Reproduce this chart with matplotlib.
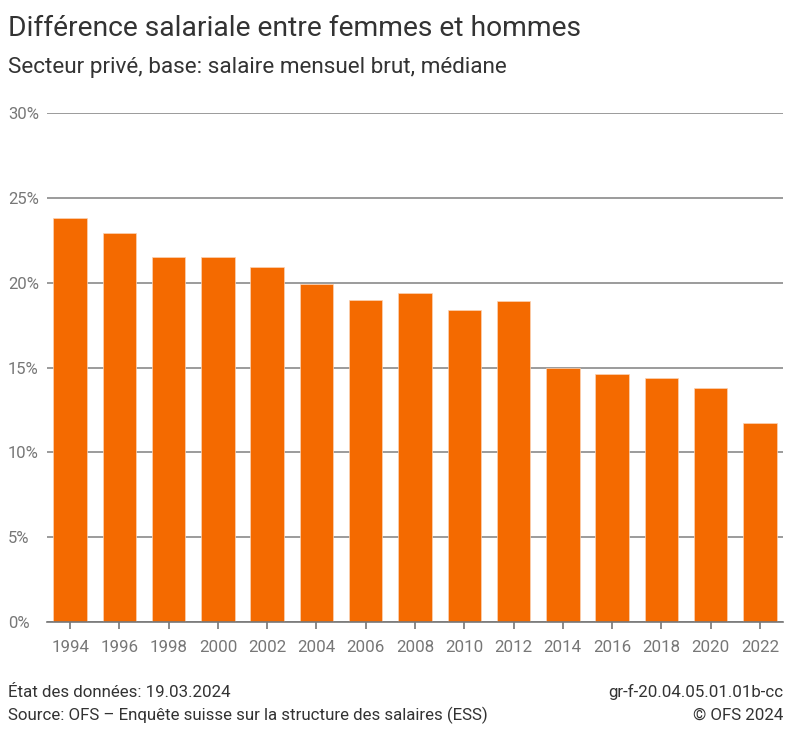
import matplotlib.pyplot as plt
import numpy as np

plt.rcParams["font.family"] = ["Roboto", "DejaVu Sans"]

# Data
years = ["1994", "1996", "1998", "2000", "2002", "2004", "2006", "2008",
         "2010", "2012", "2014", "2016", "2018", "2020", "2022"]
wage_gap = [23.8, 22.9, 21.5, 21.5, 20.9, 19.9, 19.0, 19.4,
            18.4, 18.9, 15.0, 14.6, 14.4, 13.8, 11.7]
y_ticks = [0, 5, 10, 15, 20, 25, 30]

title = "Différence salariale entre femmes et hommes"
subtitle = "Secteur privé, base: salaire mensuel brut, médiane"
footer_left = ["État des données: 19.03.2024",
               "Source: OFS – Enquête suisse sur la structure des salaires (ESS)"]
footer_right = ["gr-f-20.04.05.01.01b-cc", "© OFS 2024"]

bar_color = "#f46a00"
text_color = "#333333"
tick_color = "#777777"
grid_color = "#8a8a8a"

fig = plt.figure(figsize=(7.91, 7.32), dpi=100)
ax = fig.add_axes([47 / 791, 1 - 622 / 732, (783 - 47) / 791, (622 - 113) / 732])

x = np.arange(len(years))
ax.bar(x, wage_gap, width=0.68, color=bar_color, edgecolor="#fbd3b5",
       linewidth=0.5, zorder=3)

ax.set_xlim(-0.47, len(years) - 1 + 0.47)
ax.set_ylim(0, 30)
ax.set_yticks(y_ticks)
ax.set_yticklabels([f"{t}%" for t in y_ticks])
ax.set_xticks(x)
ax.set_xticklabels(years)

for spine in ["top", "right", "left"]:
    ax.spines[spine].set_visible(False)
ax.spines["bottom"].set_color(tick_color)
ax.spines["bottom"].set_linewidth(1.2)
ax.spines["bottom"].set_zorder(4)

ax.yaxis.grid(True, color=grid_color, linewidth=1.2, zorder=0)
ax.set_axisbelow(True)

ax.tick_params(axis="y", length=0, pad=28, labelsize=12, labelcolor=tick_color)
for lbl in ax.get_yticklabels():
    lbl.set_horizontalalignment("left")
ax.tick_params(axis="x", length=5, width=1.2, color=tick_color, pad=8,
               labelsize=12.2, labelcolor=tick_color)

# Titles
fig.text(8 / 791, 1 - 36 / 732, title, fontsize=20.3, color=text_color,
         ha="left", va="baseline")
fig.text(8 / 791, 1 - 73 / 732, subtitle, fontsize=16.2, color=text_color,
         ha="left", va="baseline")

# Footer
for i, (left, right) in enumerate(zip(footer_left, footer_right)):
    yb = 1 - (697 + i * 23) / 732
    fig.text(8 / 791, yb, left, fontsize=12.2, color=text_color,
             ha="left", va="baseline")
    fig.text(783 / 791, yb, right, fontsize=12.2, color=text_color,
             ha="right", va="baseline")

fig.savefig("out.png", dpi=100)
